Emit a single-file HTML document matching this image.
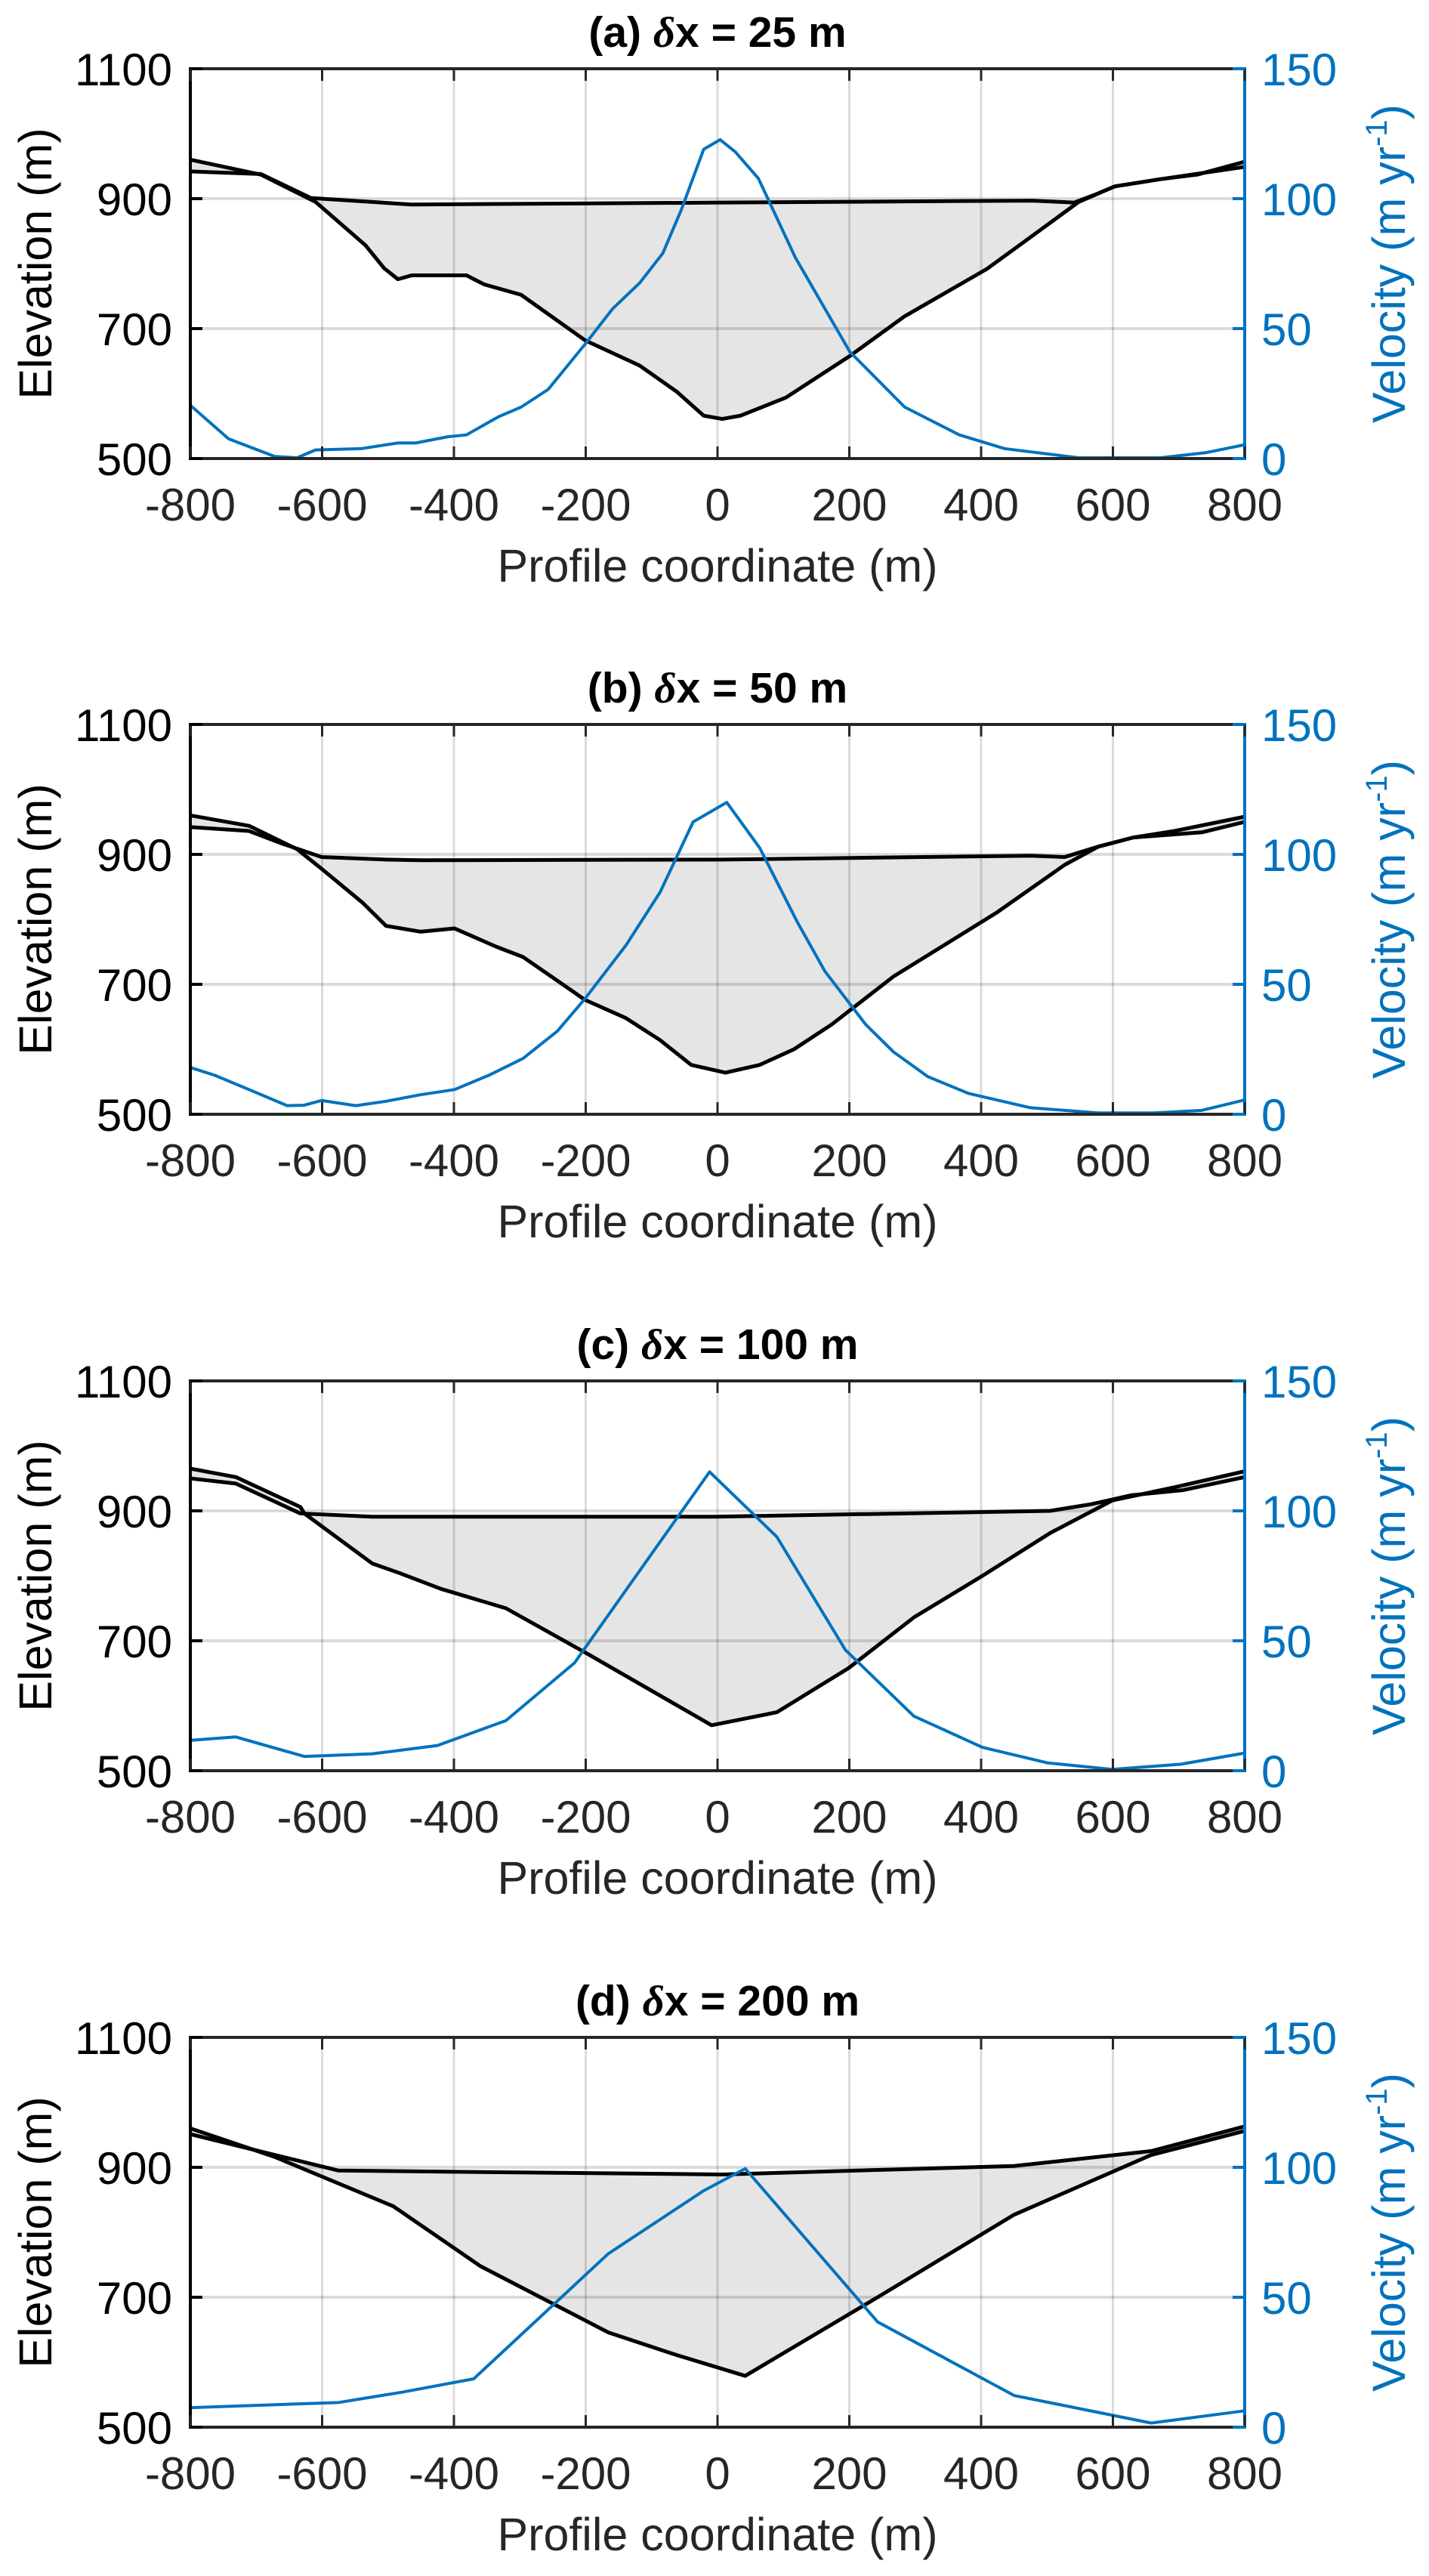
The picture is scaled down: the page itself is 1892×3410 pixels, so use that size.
<!DOCTYPE html>
<html><head><meta charset="utf-8"><style>
html,body{margin:0;padding:0;background:#fff}
svg{display:block}
text{font-family:"Liberation Sans",Arial,sans-serif}
</style></head><body>
<svg id="fig" width="1892" height="3410" viewBox="0 0 1892 3410" xmlns="http://www.w3.org/2000/svg"></svg>
<script>
// ---------- data ----------
const xTicks = [-800,-600,-400,-200,0,200,400,600,800];
const elevTicks = [500,700,900,1100];
const velTicks = [0,50,100,150];
const titles = ["(a)","(b)","(c)","(d)"];
const spacings = ["25","50","100","200"];

// Panel a
const surfXA = [-800,-693,-617,-464,4,478,541,575,603,672,800];
const surfA  = [942,938,901,891,894,897,894,907,919,930,949];
const bedXA  = [-800,-693,-610,-534,-506,-485,-464,-381,-354,-298,-201,-118,-62,-21,7,35,104,201,284,409,478,548,603,672,728,800];
const bedA   = [960,937,895,828,793,776,782,782,768,752,682,643,603,566,561,566,594,658,719,792,843,895,919,930,937,957];
const velXA  = [-800,-742,-672,-638,-610,-541,-485,-458,-409,-381,-333,-298,-257,-201,-159,-118,-83,-55,-21,4,27,62,118,201,284,367,436,548,672,742,800];
const velA   = [20.5,7.6,0.8,0.3,3.3,3.8,6,6,8.4,9.1,16,19.8,26.6,44,57.7,67.6,79,95.7,119,122.7,118,107.8,77.4,41,19.8,9.1,3.8,0.3,0.3,2.3,5.3];

// Panel b
const surfXB = [-800,-711,-659,-601,-503,-451,7,475,527,578,631,735,800];
const surfB  = [942,936,916,896,892,891,892,898,896,912,926,934,950];
const bedXB  = [-800,-711,-638,-601,-539,-503,-451,-399,-336,-295,-201,-139,-87,-40,12,64,116,173,267,423,527,578,631,693,800];
const bedB   = [960,944,908,878,826,790,781,786,758,742,676,648,614,576,564,576,600,638,712,810,884,912,926,936,958];
const velXB  = [-800,-763,-711,-653,-627,-601,-549,-503,-451,-399,-347,-295,-243,-201,-139,-87,-37,14,64,121,163,225,267,319,381,475,578,662,735,800];
const velB   = [18,15,9.5,3.3,3.5,5.3,3.3,5,7.5,9.5,15,21.5,32,44.5,65,85.5,112.5,120,102.5,74,55,34.5,24,14.5,8,2.5,0.5,0.5,1.5,5.5];

// Panel c
const surfXC = [-800,-731,-633,-524,-4,505,566,628,707,800];
const surfC  = [950,942,896,891,891,900,910,924,932,952];
const bedXC  = [-800,-731,-633,-627,-524,-482,-420,-321,-201,-9,90,199,298,402,505,599,692,800];
const bedC   = [965,952,906,896,819,804,780,750,682,570,590,658,736,800,866,916,936,961];
const velXC  = [-800,-731,-627,-524,-425,-321,-217,-118,-12,90,194,298,402,501,599,703,800];
const velC   = [11.7,13,5.5,6.5,9.7,19.3,41.5,77,115,90,46.5,21,9,3,0.5,2.5,6.8];

// Panel d
const surfXD = [-800,-575,7,450,658,800];
const surfD  = [951,895,889,902,925,963];
const bedXD  = [-800,-672,-492,-360,-166,-62,42,243,450,658,800];
const bedD   = [960,916,840,748,646,611,579,700,827,919,956];
const velXD  = [-800,-575,-478,-370,-166,-21,42,243,450,658,800];
const velD   = [7.5,9.5,13.5,18.6,66.7,91,99.5,40.5,12.2,1.6,6.3];

const panels = [
  {sx:surfXA,s:surfA,bx:bedXA,b:bedA,vx:velXA,v:velA},
  {sx:surfXB,s:surfB,bx:bedXB,b:bedB,vx:velXB,v:velB},
  {sx:surfXC,s:surfC,bx:bedXC,b:bedC,vx:velXC,v:velC},
  {sx:surfXD,s:surfD,bx:bedXD,b:bedD,vx:velXD,v:velD}
];

// ---------- drawing ----------
const NS = "http://www.w3.org/2000/svg";
const svg = document.getElementById("fig");
const L = 252, R = 1648, H = 516;
const tops = [91, 959, 1828, 2697];
const BLUE = "#0072BD";

function mk(tag, attrs, parent){
  const e = document.createElementNS(NS, tag);
  for (const k in attrs) e.setAttribute(k, attrs[k]);
  (parent||svg).appendChild(e);
  return e;
}

panels.forEach((p, i) => {
  const T = tops[i], B = T + H;
  const xs = v => L + (v + 800) / 1600 * (R - L);
  const ye = v => B - (v - 500) / 600 * H;
  const yv = v => B - v / 150 * H;
  const g = mk("g", {});
  
  

  let pts = p.sx.map((x, k) => xs(x) + "," + ye(p.s[k]));
  for (let k = p.bx.length - 1; k >= 0; k--) pts.push(xs(p.bx[k]) + "," + ye(p.b[k]));
  const fill = mk("polygon", {points: pts.join(" "), fill: "#e5e5e5", stroke: "none"}, g);
  
  

  xTicks.slice(1, -1).forEach(t => {
    const l = mk("line", {x1: xs(t), x2: xs(t), y1: T, y2: B, stroke: "rgba(0,0,0,0.14)", "stroke-width": 3}, g);
    
    
  });
  elevTicks.slice(1, -1).forEach(t => {
    const l = mk("line", {x1: L, x2: R, y1: ye(t), y2: ye(t), stroke: "rgba(0,0,0,0.14)", "stroke-width": 4}, g);
    
    
  });

  const sLine = mk("polyline", {points: p.sx.map((x, k) => xs(x) + "," + ye(p.s[k])).join(" "), fill: "none", stroke: "#000", "stroke-width": 5, "stroke-linejoin": "round"}, g);
  
  
  const bLine = mk("polyline", {points: p.bx.map((x, k) => xs(x) + "," + ye(p.b[k])).join(" "), fill: "none", stroke: "#000", "stroke-width": 5, "stroke-linejoin": "round"}, g);
  
  
  const vLine = mk("polyline", {points: p.vx.map((x, k) => xs(x) + "," + yv(p.v[k])).join(" "), fill: "none", stroke: BLUE, "stroke-width": 4, "stroke-linejoin": "round"}, g);
  
  

  mk("line", {x1: L, x2: R, y1: T, y2: T, stroke: "#262626", "stroke-width": 4}, g);
  mk("line", {x1: L, x2: R, y1: B, y2: B, stroke: "#262626", "stroke-width": 4}, g);
  mk("line", {x1: L, x2: L, y1: T - 2, y2: B + 2, stroke: "#000", "stroke-width": 4}, g);
  mk("line", {x1: R, x2: R, y1: T - 2, y2: B + 2, stroke: BLUE, "stroke-width": 4}, g);

  xTicks.forEach(t => {
    mk("line", {x1: xs(t), x2: xs(t), y1: T, y2: T + 16, stroke: "#262626", "stroke-width": 3}, g);
    mk("line", {x1: xs(t), x2: xs(t), y1: B, y2: B - 16, stroke: "#262626", "stroke-width": 3}, g);
    const tx = mk("text", {x: xs(t), y: B + 82, "text-anchor": "middle", "font-size": 60, fill: "#262626"}, g);
    tx.textContent = t;
    
    
  });
  elevTicks.forEach(t => {
    mk("line", {x1: L, x2: L + 16, y1: ye(t), y2: ye(t), stroke: "#000", "stroke-width": 4}, g);
    const tx = mk("text", {x: 228, y: ye(t) + 22, "text-anchor": "end", "font-size": 60, fill: "#000"}, g);
    tx.textContent = t;
    
    
  });
  velTicks.forEach(t => {
    mk("line", {x1: R, x2: R - 16, y1: yv(t), y2: yv(t), stroke: BLUE, "stroke-width": 4}, g);
    const tx = mk("text", {x: 1670, y: yv(t) + 22, "text-anchor": "start", "font-size": 60, fill: BLUE}, g);
    tx.textContent = t;
    
    
  });

  const tt = mk("text", {x: 950, y: T - 29, "text-anchor": "middle", "font-size": 57, "font-weight": "bold", fill: "#000"}, g);
  
  
  const t1 = mk("tspan", {}, tt); t1.textContent = titles[i] + " ";
  const t2 = mk("tspan", {"font-style": "italic", "font-family": "Liberation Serif, serif"}, tt); t2.textContent = "δ";
  const t3 = mk("tspan", {}, tt); t3.textContent = "x = " + spacings[i] + " m";

  const xl = mk("text", {x: 950, y: B + 163, "text-anchor": "middle", "font-size": 61, fill: "#262626"}, g);
  xl.textContent = "Profile coordinate (m)";
  
  

  const cy = T + H / 2;
  const yl = mk("text", {x: 0, y: 0, "text-anchor": "middle", "font-size": 61, fill: "#000", transform: "translate(68," + cy + ") rotate(-90)"}, g);
  yl.textContent = "Elevation (m)";
  
  

  const vl = mk("text", {x: 0, y: 0, "text-anchor": "middle", "font-size": 61, fill: BLUE, transform: "translate(1860," + cy + ") rotate(-90)"}, g);
  
  
  const v1 = mk("tspan", {}, vl); v1.textContent = "Velocity (m yr";
  const v2 = mk("tspan", {"font-size": 40, dy: -24}, vl); v2.textContent = "-1";
  const v3 = mk("tspan", {dy: 24}, vl); v3.textContent = ")";
});
</script>
</body></html>
